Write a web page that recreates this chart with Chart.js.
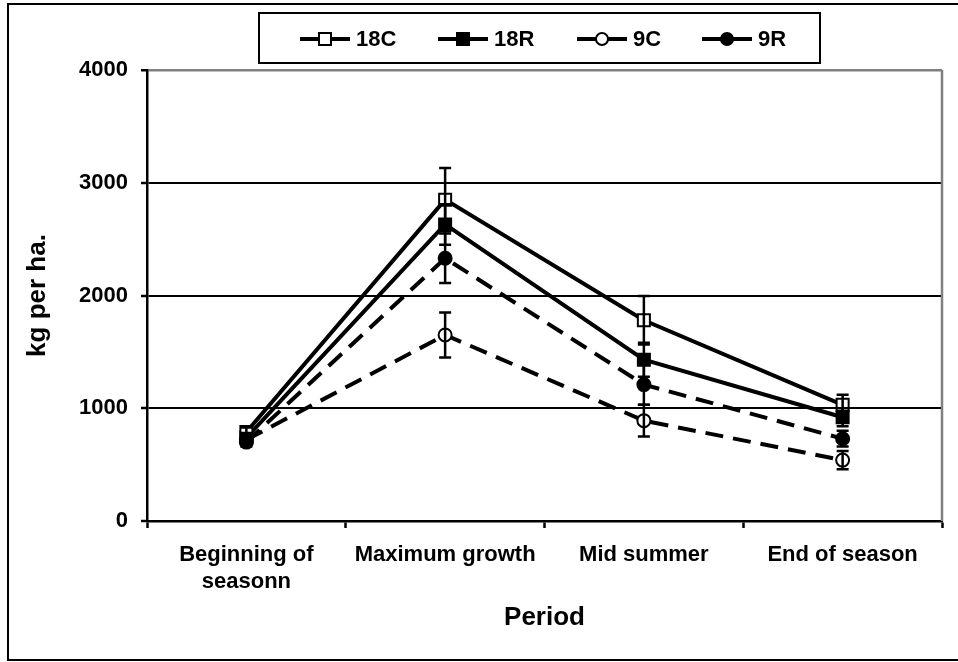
<!DOCTYPE html>
<html>
<head>
<meta charset="utf-8">
<script src="https://cdn.jsdelivr.net/npm/chart.js@4/dist/chart.umd.min.js"></script>
<style>
  html, body { margin: 0; padding: 0; background: #fff; }
  #wrap { width: 958px; height: 662px; }
</style>
</head>
<body>
<div id="wrap"><canvas id="chart" width="958" height="662"></canvas></div>
<script>
// categories and tick labels
var periods = [['Beginning of', 'seasonn'], 'Maximum growth', 'Mid summer', 'End of season'];
var yTicks = [0, 1000, 2000, 3000, 4000];

// series means (kg per ha.)
var s18C = [790, 2850, 1780, 1030];
var s18R = [740, 2630, 1430, 920];
var s9C  = [720, 1650, 890, 540];
var s9R  = [700, 2330, 1210, 730];

// error bar half-widths
var e18C = [40, 280, 215, 90];
var e18R = [40, 180, 150, 80];
var e9C  = [40, 200, 140, 80];
var e9R  = [40, 220, 180, 70];

var FONT = "'Liberation Sans', Arial, sans-serif";

function series(label, data, errs, style, filled, dashed) {
  return {
    label: label,
    data: data,
    errs: errs,
    borderColor: '#000',
    borderWidth: 4,
    borderDash: dashed ? [18, 10] : [],
    pointStyle: style,
    pointRadius: style == 'rect' ? 8.5 : 6.5,
    pointBorderWidth: 2,
    pointBorderColor: '#000',
    pointBackgroundColor: filled ? '#000' : '#fff',
    tension: 0,
    fill: false
  };
}

// error bars, drawn from the same scale as the lines
var errorBars = {
  id: 'errorBars',
  afterDatasetsDraw: function(chart) {
    var ctx = chart.ctx, y = chart.scales.y;
    ctx.save();
    ctx.strokeStyle = '#000';
    ctx.lineWidth = 2.5;
    ctx.setLineDash([]);
    chart.data.datasets.forEach(function(ds, i) {
      var meta = chart.getDatasetMeta(i);
      meta.data.forEach(function(pt, j) {
        var v = ds.data[j], e = ds.errs[j];
        var top = y.getPixelForValue(v + e), bot = y.getPixelForValue(v - e);
        ctx.beginPath();
        ctx.moveTo(pt.x, top); ctx.lineTo(pt.x, bot);
        ctx.moveTo(pt.x - 6, top); ctx.lineTo(pt.x + 6, top);
        ctx.moveTo(pt.x - 6, bot); ctx.lineTo(pt.x + 6, bot);
        ctx.stroke();
      });
    });
    ctx.restore();
  }
};

// frame, plot border and the boxed legend
var frame = {
  id: 'frame',
  beforeDatasetsDraw: function(chart) {
    var ctx = chart.ctx, a = chart.chartArea;
    ctx.save();
    ctx.strokeStyle = '#808080';
    ctx.lineWidth = 2.5;
    ctx.beginPath();
    ctx.moveTo(a.right, a.top);
    ctx.lineTo(a.right, a.bottom);
    ctx.stroke();
    ctx.restore();
  },
  afterDraw: function(chart) {
    var ctx = chart.ctx, a = chart.chartArea;
    ctx.save();
    ctx.strokeStyle = '#000';
    ctx.lineWidth = 2;
    ctx.strokeRect(8, 4, 960, 656);

    // legend box
    var lx = a.left + 112, ly = 13, lw = 561, lh = 50;
    ctx.strokeRect(lx, ly, lw, lh);
    var starts = [41, 179, 318, 443];
    var cy = ly + 26;
    ctx.font = 'bold 22px ' + FONT;
    ctx.textBaseline = 'middle';
    ctx.fillStyle = '#000';
    chart.data.datasets.forEach(function(ds, i) {
      var x0 = lx + starts[i], x1 = x0 + 50, xm = (x0 + x1) / 2;
      ctx.lineWidth = 4;
      ctx.beginPath();
      ctx.moveTo(x0, cy); ctx.lineTo(x1, cy);
      ctx.stroke();
      ctx.lineWidth = 2;
      ctx.fillStyle = ds.pointBackgroundColor;
      ctx.beginPath();
      if (ds.pointStyle == 'rect') {
        ctx.rect(xm - 6, cy - 6, 12, 12);
      } else {
        ctx.arc(xm, cy, 6, 0, Math.PI * 2);
      }
      ctx.fill();
      ctx.stroke();
      ctx.fillStyle = '#000';
      ctx.fillText(ds.label, x1 + 6, cy + 1);
    });
    ctx.restore();
  }
};

new Chart(document.getElementById('chart'), {
  type: 'line',
  data: {
    labels: periods,
    datasets: [
      series('18C', s18C, e18C, 'rect', false, false),
      series('18R', s18R, e18R, 'rect', true, false),
      series('9C', s9C, e9C, 'circle', false, true),
      series('9R', s9R, e9R, 'circle', true, true)
    ]
  },
  options: {
    responsive: false,
    devicePixelRatio: 1,
    animation: false,
    layout: { padding: { top: 70, right: 16, left: 0, bottom: 0 } },
    plugins: {
      legend: { display: false },
      tooltip: { enabled: false }
    },
    scales: {
      x: {
        offset: true,
        afterFit: function(s) { s.height = 141; },
        grid: { offset: true, drawOnChartArea: false, drawTicks: true, tickLength: 7, tickColor: '#000', tickWidth: 2.5, color: '#000' },
        border: { display: true, color: '#000', width: 2.5 },
        ticks: { color: '#000', font: { family: FONT, size: 22, weight: 'bold' }, padding: 14, maxRotation: 0, autoSkip: false },
        title: { display: true, text: 'Period', color: '#000', font: { family: FONT, size: 26, weight: 'bold' }, padding: { top: 0, bottom: 29 } }
      },
      y: {
        min: yTicks[0],
        max: yTicks[yTicks.length - 1],
        afterFit: function(s) { s.width = 147; },
        afterBuildTicks: function(s) { s.ticks = yTicks.map(function(v) { return { value: v }; }); },
        grid: {
          color: function(c) { return c.tick && c.tick.value == 4000 ? '#808080' : '#000'; },
          lineWidth: function(c) { return c.tick && c.tick.value == 4000 ? 2.5 : 2; },
          tickColor: '#000', tickWidth: 2.5, tickLength: 6, drawTicks: true
        },
        border: { display: true, color: '#000', width: 2.5 },
        ticks: {
          color: '#000', font: { family: FONT, size: 22, weight: 'bold' }, padding: 13,
          callback: function(v) { return String(v); }
        },
        title: { display: true, text: 'kg per ha.', color: '#000', font: { family: FONT, size: 26, weight: 'bold' }, padding: { top: 22, bottom: 0 } }
      }
    }
  },
  plugins: [errorBars, frame]
});
</script>
</body>
</html>
